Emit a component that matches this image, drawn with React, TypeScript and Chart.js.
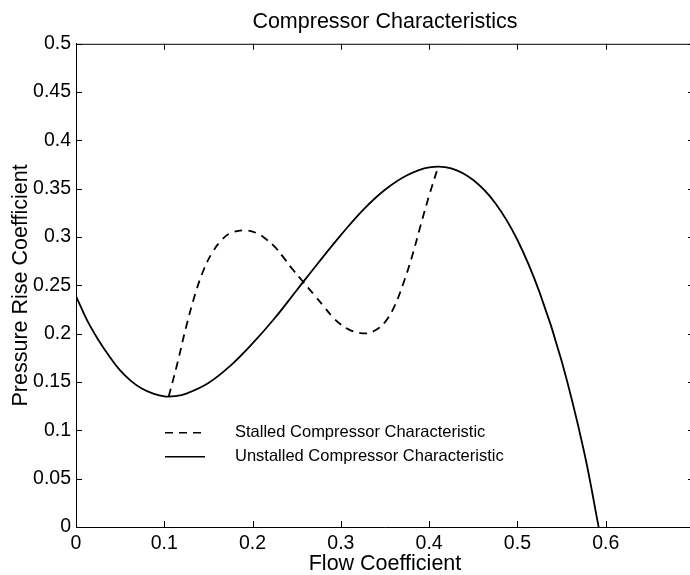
import React, { useEffect, useRef } from "react";
import { Chart, registerables } from "chart.js";

Chart.register(...registerables);

const TITLE = "Compressor Characteristics";
const X_LABEL = "Flow Coefficient";
const Y_LABEL = "Pressure Rise Coefficient";
const STALLED_LABEL = "Stalled Compressor Characteristic";
const UNSTALLED_LABEL = "Unstalled Compressor Characteristic";

const unstalledPhi = [0, 0.0125, 0.025, 0.0375, 0.05, 0.0625, 0.075, 0.0875, 0.1, 0.1125, 0.125, 0.15, 0.175, 0.2, 0.225, 0.25, 0.275, 0.3, 0.325, 0.35, 0.375, 0.4, 0.425, 0.45, 0.475, 0.5, 0.525, 0.55, 0.575, 0.592];
const unstalledPsi = [0.239, 0.214, 0.194, 0.177, 0.162, 0.151, 0.143, 0.138, 0.1352, 0.1354, 0.138, 0.149, 0.167, 0.19, 0.216, 0.245, 0.274, 0.302, 0.328, 0.349, 0.364, 0.3722, 0.3712, 0.359, 0.335, 0.297, 0.243, 0.172, 0.08, 0];

const stalledPhi = [0.105, 0.115, 0.125, 0.135, 0.145, 0.155, 0.165, 0.175, 0.19, 0.205, 0.215, 0.225, 0.235, 0.245, 0.257, 0.27, 0.28, 0.29, 0.3, 0.31, 0.32, 0.33, 0.34, 0.35, 0.36, 0.37, 0.38, 0.39, 0.4, 0.41];
const stalledPsi = [0.135, 0.17, 0.208, 0.241, 0.267, 0.285, 0.297, 0.304, 0.307, 0.304, 0.298, 0.29, 0.279, 0.267, 0.254, 0.24, 0.229, 0.218, 0.2095, 0.204, 0.201, 0.2005, 0.204, 0.212, 0.227, 0.25, 0.278, 0.311, 0.343, 0.372];

const xTickValues = [0, 0.1, 0.2, 0.3, 0.4, 0.5, 0.6, 0.7];
const xTickLabels = ["0", "0.1", "0.2", "0.3", "0.4", "0.5", "0.6", ""];
const yTickValues = [0, 0.05, 0.1, 0.15, 0.2, 0.25, 0.3, 0.35, 0.4, 0.45, 0.5];
const yTickLabels = ["0", "0.05", "0.1", "0.15", "0.2", "0.25", "0.3", "0.35", "0.4", "0.45", "0.5"];

const FONT = "'Liberation Sans', Arial, Helvetica, sans-serif";

const boxTicksPlugin = {
  id: "boxTicks",
  afterDraw(chart: any) {
    const { ctx, chartArea } = chart;
    const { left, right, top, bottom } = chartArea;
    const xs = chart.scales.x;
    const ys = chart.scales.y;
    const len = 6;
    ctx.save();
    ctx.strokeStyle = "#000";
    ctx.lineWidth = 1;
    ctx.beginPath();
    ctx.moveTo(left, top + 0.5);
    ctx.lineTo(right, top + 0.5);
    ctx.moveTo(right - 0.5, top);
    ctx.lineTo(right - 0.5, bottom);
    for (const v of xTickValues) {
      const px = Math.round(xs.getPixelForValue(v)) + 0.5;
      ctx.moveTo(px, bottom);
      ctx.lineTo(px, bottom - len);
      ctx.moveTo(px, top);
      ctx.lineTo(px, top + len);
    }
    for (const v of yTickValues) {
      const py = Math.round(ys.getPixelForValue(v)) + 0.5;
      ctx.moveTo(left, py);
      ctx.lineTo(left + len, py);
      ctx.moveTo(right, py);
      ctx.lineTo(right - len, py);
    }
    ctx.stroke();
    ctx.restore();
  },
};

const innerLegendPlugin = {
  id: "innerLegend",
  afterDraw(chart: any) {
    const { ctx, chartArea } = chart;
    const sx0 = chartArea.left + 89;
    const sx1 = chartArea.left + 129;
    const tx = chartArea.left + 159;
    const rows = [chartArea.top + 389, chartArea.top + 413];
    ctx.save();
    ctx.font = `16.5px ${FONT}`;
    ctx.fillStyle = "#000";
    ctx.textBaseline = "middle";
    ctx.textAlign = "left";
    chart.data.datasets.forEach((ds: any, i: number) => {
      const y = rows[i];
      ctx.beginPath();
      ctx.strokeStyle = "#000";
      ctx.lineWidth = 1.6;
      ctx.setLineDash(ds.borderDash || []);
      ctx.moveTo(sx0, y);
      ctx.lineTo(sx1, y);
      ctx.stroke();
      ctx.setLineDash([]);
      ctx.fillText(ds.label, tx, y);
    });
    ctx.restore();
  },
};

export default function App() {
  const ref = useRef<HTMLCanvasElement | null>(null);

  useEffect(() => {
    if (!ref.current) return;
    const chart = new Chart(ref.current, {
      type: "line",
      data: {
        datasets: [
          {
            label: STALLED_LABEL,
            data: stalledPhi.map((x, i) => ({ x, y: stalledPsi[i] })),
            borderColor: "#000",
            borderWidth: 1.8,
            borderDash: [8, 6],
            pointRadius: 0,
            fill: false,
            tension: 0.4,
          },
          {
            label: UNSTALLED_LABEL,
            data: unstalledPhi.map((x, i) => ({ x, y: unstalledPsi[i] })),
            borderColor: "#000",
            borderWidth: 1.8,
            pointRadius: 0,
            fill: false,
            tension: 0.4,
          },
        ],
      },
      options: {
        animation: false,
        responsive: false,
        maintainAspectRatio: false,
        devicePixelRatio: 1,
        layout: { padding: { left: 0, right: 16, top: 0, bottom: 0 } },
        plugins: {
          legend: { display: false },
          tooltip: { enabled: false },
          title: {
            display: true,
            fullSize: false,
            text: TITLE,
            color: "#000",
            font: { family: FONT, size: 21.5, weight: "normal", lineHeight: 1.2 },
            padding: { top: 9, bottom: 9 },
          },
        },
        scales: {
          x: {
            type: "linear",
            min: 0,
            max: 0.7,
            afterBuildTicks: (s: any) => {
              s.ticks = xTickValues.map((v) => ({ value: v }));
            },
            afterFit: (s: any) => {
              s.height = 48;
            },
            ticks: {
              color: "#000",
              font: { family: FONT, size: 19.5 },
              padding: 5,
              maxRotation: 0,
              autoSkip: false,
              callback: (_v: any, i: number) => xTickLabels[i] ?? "",
            },
            grid: { display: true, drawOnChartArea: false, drawTicks: false },
            border: { display: true, color: "#000", width: 1 },
            title: {
              display: true,
              text: X_LABEL,
              color: "#000",
              font: { family: FONT, size: 21.5, lineHeight: 1 },
              padding: { top: 0, bottom: 0 },
            },
          },
          y: {
            type: "linear",
            min: 0,
            max: 0.5,
            afterBuildTicks: (s: any) => {
              s.ticks = yTickValues.map((v) => ({ value: v }));
            },
            afterFit: (s: any) => {
              s.width = 76;
            },
            ticks: {
              color: "#000",
              font: { family: FONT, size: 19.5 },
              padding: 5,
              autoSkip: false,
              callback: (_v: any, i: number) => yTickLabels[i] ?? "",
            },
            grid: { display: true, drawOnChartArea: false, drawTicks: false },
            border: { display: true, color: "#000", width: 1 },
            title: {
              display: true,
              text: Y_LABEL,
              color: "#000",
              font: { family: FONT, size: 21.5, lineHeight: 1.2 },
              padding: { top: 8, bottom: 0 },
            },
          },
        },
      },
      plugins: [boxTicksPlugin, innerLegendPlugin],
    } as any);
    return () => chart.destroy();
  }, []);

  return (
    <div
      style={{
        position: "fixed",
        left: 0,
        top: 0,
        width: 690,
        height: 575,
        overflow: "hidden",
        background: "#fff",
      }}
    >
      <canvas ref={ref} width={710} height={575} style={{ width: 710, height: 575, display: "block" }} />
    </div>
  );
}
